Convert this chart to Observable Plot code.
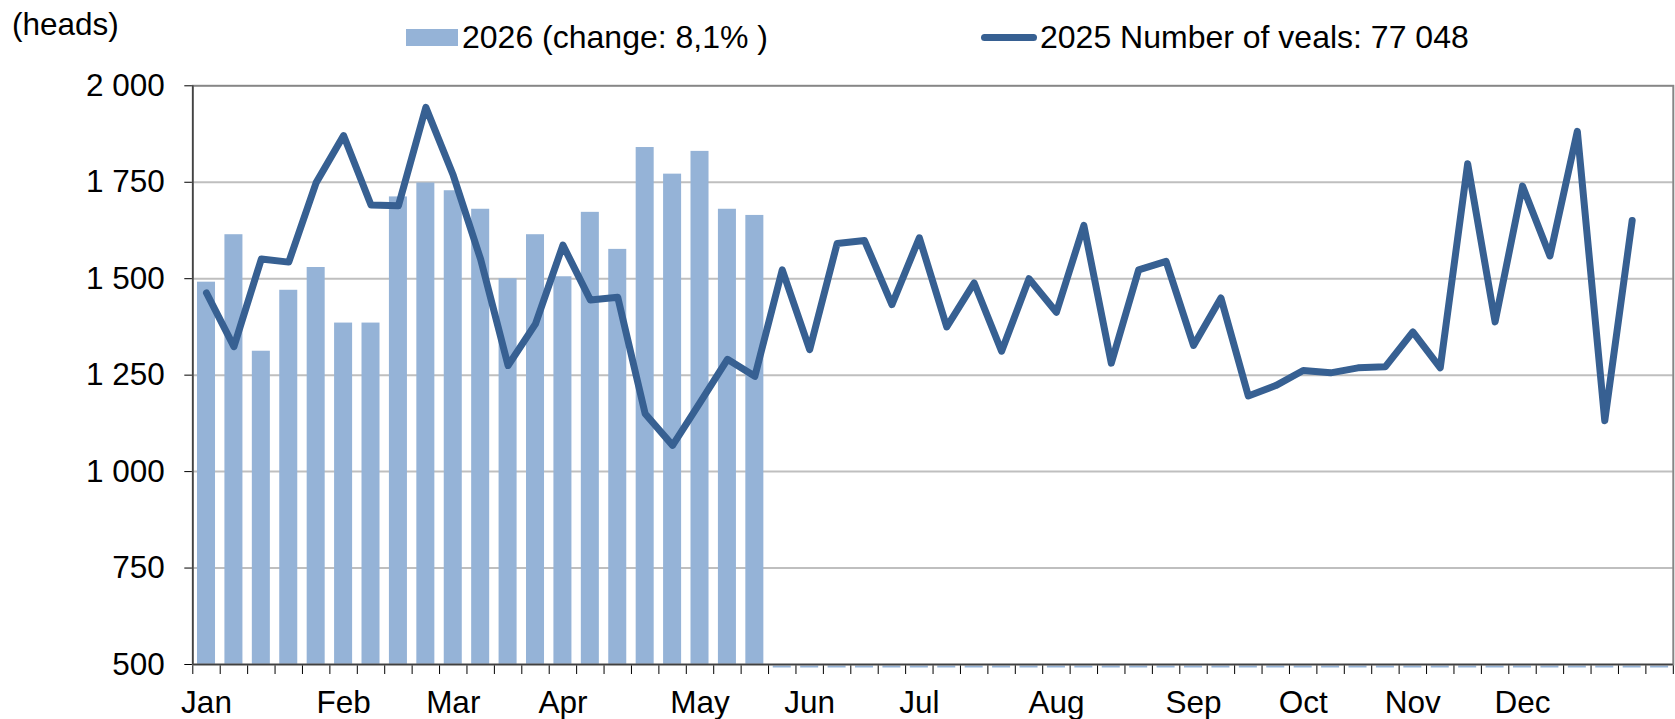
<!DOCTYPE html>
<html><head><meta charset="utf-8">
<script src="https://cdn.jsdelivr.net/npm/d3@7"></script>
<script src="https://cdn.jsdelivr.net/npm/@observablehq/plot@0.6"></script>
<style>
html,body{margin:0;padding:0;background:#fff;}
#wrap{position:relative;width:1675px;height:719px;overflow:hidden;font-family:"Liberation Sans",Arial,sans-serif;color:#000;}
#chart{position:absolute;left:0;top:0;}
.lab{position:absolute;white-space:nowrap;line-height:1;}
.sw{position:absolute;}
</style></head><body>
<div id="wrap">
  <div id="chart"></div>
  <div class="lab" id="unit" style="left:12px;top:9px;font-size:31.5px"></div>
  <div class="sw" style="left:406px;top:29px;width:52px;height:17px;background:#95b3d7"></div>
  <div class="lab" id="leg1" style="left:462px;top:21px;font-size:32px"></div>
  <div class="sw" style="left:981px;top:34px;width:56px;height:7px;border-radius:3.5px;background:#376092"></div>
  <div class="lab" id="leg2" style="left:1040px;top:21px;font-size:32px"></div>
</div>
<script>
// ---- data ----
const unitLabel = "(heads)";
const seriesBarName = "2026 (change: 8,1% )";
const seriesLineName = "2025 Number of veals: 77 048";
const nSlots = 54;
const values2026 = [1491,1614,1312,1470,1529,1385,1385,1712,1748,1728,1680,1500,1614,1505,1672,1576,1840,1771,1830,1680,1664];
const values2025 = [1463,1324,1551,1543,1749,1871,1691,1689,1944,1768,1550,1275,1383,1587,1445,1452,1150,1068,1179,1291,1247,1523,1316,1591,1599,1433,1606,1375,1489,1312,1500,1413,1638,1281,1523,1545,1327,1450,1196,1223,1262,1256,1269,1272,1362,1269,1798,1388,1740,1559,1882,1132,1651];
const monthLabels = ["Jan","Feb","Mar","Apr","May","Jun","Jul","Aug","Sep","Oct","Nov","Dec"];
const monthSlots = [0,5,9,13,18,22,26,31,36,40,44,48];
const yMin = 500, yMax = 2000;
const yTicks = [500,750,1000,1250,1500,1750,2000];

// ---- build ----
document.getElementById("unit").textContent = unitLabel;
document.getElementById("leg1").textContent = seriesBarName;
document.getElementById("leg2").textContent = seriesLineName;

const bars = values2026.map((v,i)=>({i, v}));
const empty = d3.range(values2026.length, nSlots).map(i=>({i}));
const line = values2025.map((v,i)=>({i, v}));
const months = monthLabels.map((m,k)=>({m, i: monthSlots[k]}));
const fmt = d => d3.format(",")(d).replace(/,/g, " ");

const chart = Plot.plot({
  width: 1675, height: 719,
  marginTop: 85.3, marginBottom: 55, marginLeft: 192.3, marginRight: 2.2,
  style: {fontFamily: '"Liberation Sans", Arial, sans-serif', fontSize: "31.5px", color: "#000", background: "transparent", overflow: "visible"},
  x: {domain: [0, nSlots], ticks: d3.range(0, nSlots + 1), tickSize: 10, tickFormat: () => "", label: null},
  y: {domain: [yMin, yMax], ticks: yTicks, tickSize: 8, tickPadding: 20, tickFormat: fmt, label: null},
  marks: [
    Plot.ruleY(yTicks.slice(1, -1), {stroke: "#bfbfbf", strokeWidth: 2}),
    Plot.rect(bars, {x1: "i", x2: d => d.i + 1, y1: () => yMin, y2: "v", fill: "#95b3d7", insetLeft: 4.7, insetRight: 4.7}),
    Plot.rect(empty, {x1: "i", x2: d => d.i + 1, y1: () => yMin, y2: () => yMin, fill: "#95b3d7", insetLeft: 4.7, insetRight: 4.7, insetTop: 1.5, insetBottom: -3.5}),
    Plot.frame({stroke: "#868686", strokeWidth: 2}),
    Plot.ruleY([yMin], {stroke: "#404040", strokeWidth: 1.5}),
    Plot.ruleX([0], {stroke: "#404040", strokeWidth: 1.5}),
    Plot.line(line, {x: d => d.i + 0.5, y: "v", stroke: "#376092", strokeWidth: 7, strokeLinejoin: "round", strokeLinecap: "round"}),
    Plot.text(months, {x: d => d.i + 0.5, text: "m", frameAnchor: "bottom", dy: 48})
  ]
});
document.getElementById("chart").appendChild(chart);
</script>
</body></html>
